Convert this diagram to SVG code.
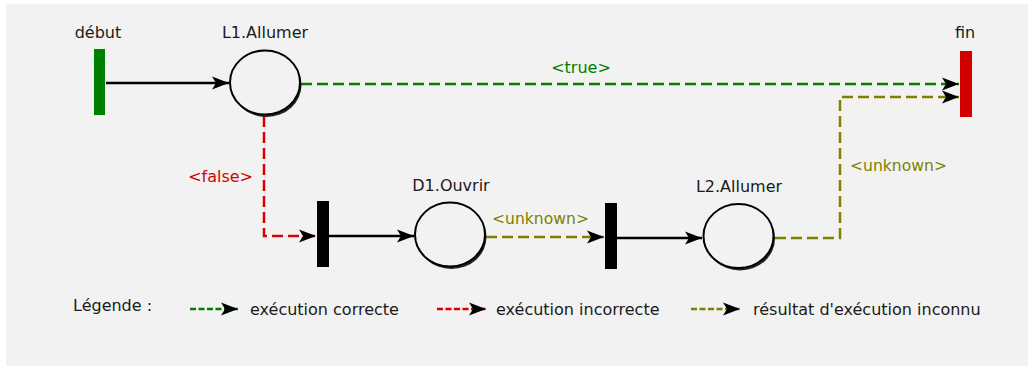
<svg xmlns="http://www.w3.org/2000/svg" width="1034" height="368" viewBox="0 0 1034 368">
<style>
text{font-family:"DejaVu Sans",sans-serif;font-size:16px;fill:#1a1a1a}
.c{text-anchor:middle}
.conn{fill:none;stroke-width:2.5}
.blk{stroke:#000}
.grn{stroke:#008000;stroke-dasharray:11 5}
.red{stroke:#dd0000;stroke-dasharray:11 5}
.olv{stroke:#808000;stroke-dasharray:11 5}
.lg{fill:none;stroke-width:2.5;stroke-dasharray:6 2.5}
.place{fill:#f2f2f2;stroke:#000;stroke-width:2}
.shadow{fill:#222}
.bar{fill:#000}
</style>
<defs>
<marker id="ah" markerUnits="userSpaceOnUse" markerWidth="18" markerHeight="14" refX="17" refY="6.5" orient="auto" overflow="visible">
<path d="M0,0 L17,6.5 L0,13 L4,6.5 Z" fill="#000"/>
</marker>
</defs>
<rect x="0" y="0" width="1034" height="368" fill="#ffffff"/>
<rect x="6" y="4" width="1022" height="362" fill="#f2f2f2"/>

<g id="connectors">
<path class="conn blk" d="M106,83 L229,83" marker-end="url(#ah)"/>
<path class="conn grn" d="M301,84 L959,84" marker-end="url(#ah)"/>
<path class="conn red" d="M264,116 L264,236 L316,236" marker-end="url(#ah)"/>
<path class="conn blk" d="M329,236 L414,236" marker-end="url(#ah)"/>
<path class="conn olv" d="M486,237 L604,237" marker-end="url(#ah)"/>
<path class="conn blk" d="M617,238 L702,238" marker-end="url(#ah)"/>
<path class="conn olv" d="M775,238 L840,238 L840,97 L959,97" marker-end="url(#ah)"/>
<text x="581" y="73" class="c" style="fill:#008000">&lt;true&gt;</text>
<text x="253" y="182" style="fill:#d40000;text-anchor:end">&lt;false&gt;</text>
<text x="492" y="224" style="fill:#808000;font-size:15.6px">&lt;unknown&gt;</text>
<text x="850" y="171" style="fill:#808000;font-size:15.6px">&lt;unknown&gt;</text>
</g>

<g id="debut">
<rect x="94" y="49" width="11" height="66" fill="#008000"/>
<text x="98" y="38" class="c">début</text>
</g>
<g id="L1">
<ellipse class="shadow" cx="266.5" cy="85" rx="35" ry="32"/>
<ellipse class="place" cx="265" cy="82.5" rx="35" ry="32"/>
<text x="265" y="38" class="c">L1.Allumer</text>
</g>
<g id="fin">
<rect x="960" y="51" width="12" height="66" fill="#d40000"/>
<text x="965" y="38" class="c">fin</text>
</g>
<g id="T1">
<rect class="bar" x="317" y="201" width="12" height="66"/>
</g>
<g id="D1">
<ellipse class="shadow" cx="451.5" cy="237" rx="35" ry="32"/>
<ellipse class="place" cx="450" cy="234.5" rx="35" ry="32"/>
<text x="451" y="191" class="c">D1.Ouvrir</text>
</g>
<g id="T2">
<rect class="bar" x="605" y="203" width="12" height="66"/>
</g>
<g id="L2">
<ellipse class="shadow" cx="740" cy="238.5" rx="35" ry="32"/>
<ellipse class="place" cx="738.5" cy="236" rx="35" ry="32"/>
<text x="739" y="192" class="c">L2.Allumer</text>
</g>

<g id="legend">
<text x="73" y="311">Légende :</text>
<path class="lg" d="M190,309 L238,309" stroke="#008000" marker-end="url(#ah)"/>
<text x="250" y="315">exécution correcte</text>
<path class="lg" d="M437,309 L486,309" stroke="#dd0000" marker-end="url(#ah)"/>
<text x="496" y="315">exécution incorrecte</text>
<path class="lg" d="M691,309 L740,309" stroke="#808000" marker-end="url(#ah)"/>
<text x="753" y="315">résultat d'exécution inconnu</text>
</g>
</svg>
